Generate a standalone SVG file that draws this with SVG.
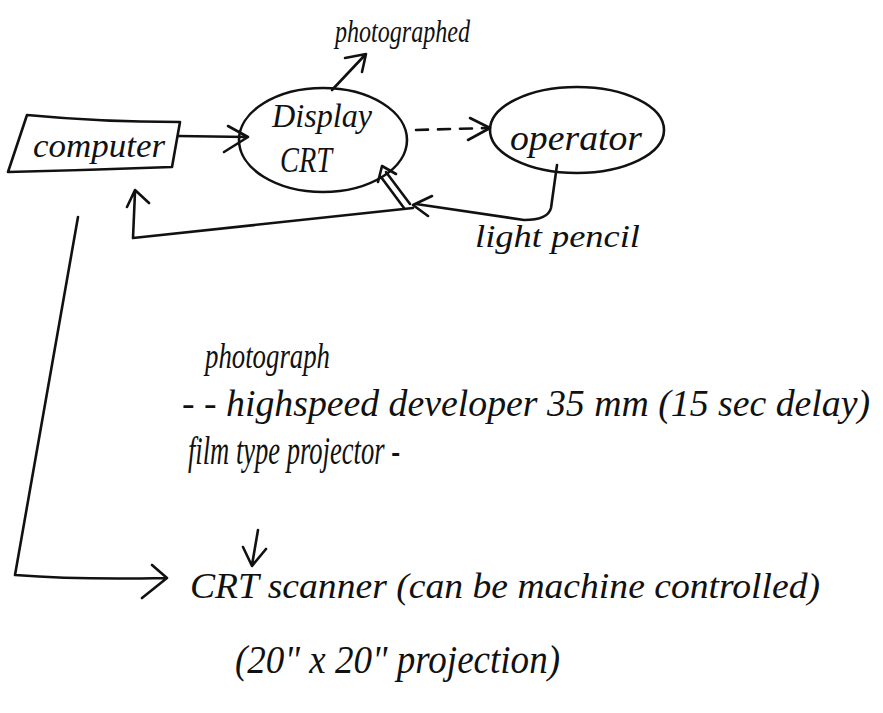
<svg xmlns="http://www.w3.org/2000/svg" width="883" height="713" viewBox="0 0 883 713">
<style>
.ln{fill:none;stroke:#111;stroke-width:2.6;stroke-linecap:round;stroke-linejoin:round}
.ds{stroke-dasharray:12 10}
.t{font-family:"Liberation Serif","DejaVu Serif",serif;font-style:italic;fill:#111}
</style>
<rect width="883" height="713" fill="#fff"/>
<g id="computer">
<path class="ln" d="M27,115 Q100,122 180,122 L172,167 Q90,170 8,172 Z"/>
<text class="t" x="33" y="157" font-size="34" textLength="132" lengthAdjust="spacingAndGlyphs">computer</text>
</g>
<g id="display-crt">
<ellipse class="ln" cx="323" cy="140" rx="84" ry="52"/>
<text class="t" x="272" y="127" font-size="34" textLength="100" lengthAdjust="spacingAndGlyphs">Display</text>
<text class="t" x="280" y="172" font-size="36" textLength="52" lengthAdjust="spacingAndGlyphs">CRT</text>
</g>
<g id="operator">
<ellipse class="ln" cx="577" cy="130" rx="87" ry="43"/>
<text class="t" x="510" y="150" font-size="36" textLength="132" lengthAdjust="spacingAndGlyphs">operator</text>
</g>
<g id="labels">
<text class="t" x="335" y="42" font-size="32" textLength="135" lengthAdjust="spacingAndGlyphs">photographed</text>
<text class="t" x="475" y="247" font-size="32" textLength="165" lengthAdjust="spacingAndGlyphs">light pencil</text>
<text class="t" x="205" y="368" font-size="36" textLength="125" lengthAdjust="spacingAndGlyphs">photograph</text>
<text class="t" x="182" y="416" font-size="38" textLength="688" lengthAdjust="spacingAndGlyphs">- - highspeed developer  35 mm  (15 sec delay)</text>
<text class="t" x="188" y="464" font-size="40" textLength="212" lengthAdjust="spacingAndGlyphs">film type projector -</text>
<text class="t" x="190" y="598" font-size="36" textLength="630" lengthAdjust="spacingAndGlyphs">CRT scanner  (can be machine controlled)</text>
<text class="t" x="235" y="673" font-size="40" textLength="325" lengthAdjust="spacingAndGlyphs">(20" x 20" projection)</text>
</g>
<g id="connectors">
<path class="ln" d="M178,136 L247,137 M228,126 L248,137 L224,152"/>
<path class="ln" d="M332,90 L365,55 M345,58 L366,54 L362,72"/>
<path class="ln ds" d="M416,130 L488,128"/>
<path class="ln" d="M470,118 L490,128 L468,140"/>
<path class="ln" d="M557,165 L551,208 Q548,220 524,220 L416,204 M432,196 L413,205 L428,216"/>
<path class="ln" d="M413,208 L133,238 L135,192 M127,207 L135,190 L149,203"/>
<path class="ln" d="M410,204 L386,172 M404,208 L381,177 M378,182 L382,166 L396,174"/>
<path class="ln" d="M78,217 L15,575 Q80,580 165,578 M152,565 L167,578 L142,598"/>
<path class="ln" d="M258,530 L252,565 M243,547 L252,566 L266,549"/>
</g>
</svg>
